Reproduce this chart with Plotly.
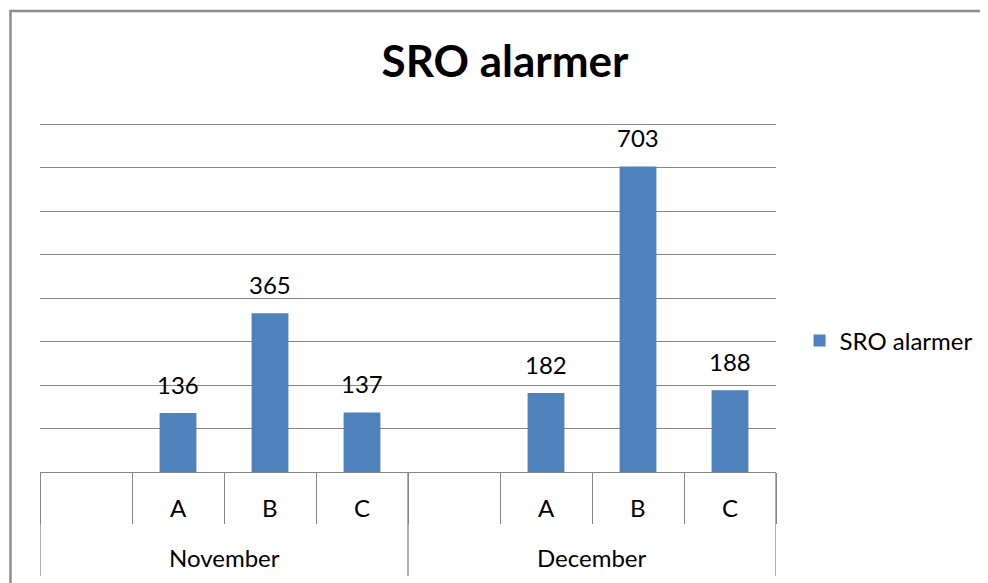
import plotly.graph_objects as go

# ---- data ----
months = ["November", "December"]
sub_labels = ["", "A", "B", "C"]
values_nov = [None, 136, 365, 137]
values_dec = [None, 182, 703, 188]
series_name = "SRO alarmer"
title_text = "SRO alarmer"
y_max = 800
y_step = 100

values = values_nov + values_dec
inner = sub_labels * len(months)
xpos = list(range(len(values)))
n_sub = len(sub_labels)

BAR = "#4F81BD"
GRID = "#868686"
FONT = "Lato"
TXT = "#000000"

# page has an 8px body margin; figure is sized/offset to compensate
OFF = 8
W, H = 988 - OFF, 583 - OFF
ML, MR, MT, MB = 40 - OFF, 212, 123 - OFF, 583 - 472
plot_w = W - ML - MR
plot_h = H - MT - MB

fig = go.Figure()
fig.add_trace(go.Bar(
    x=xpos, y=values, name=series_name, marker=dict(color=BAR, line=dict(width=0)),
    width=0.4, showlegend=True,
))

# data labels
for xi, v in zip(xpos, values):
    if v is None:
        continue
    fig.add_annotation(x=xi, y=v, xref="x", yref="y", text=str(v), showarrow=False,
                       yanchor="bottom", yshift=12, font=dict(family=FONT, size=24, color=TXT))

# inner category labels
for xi, lab in zip(xpos, inner):
    if lab:
        fig.add_annotation(x=xi, y=0, xref="x", yref="paper", text=lab, showarrow=False,
                           yanchor="middle", yshift=-35, font=dict(family=FONT, size=24, color=TXT))

# outer group labels + dividers
for gi, m in enumerate(months):
    center = gi * n_sub + (n_sub - 1) / 2
    fig.add_annotation(x=center, y=0, xref="x", yref="paper", text=m, showarrow=False,
                       yanchor="middle", yshift=-85, font=dict(family=FONT, size=24, color=TXT))
for gi in range(len(months) + 1):
    b = gi * n_sub - 0.5
    fig.add_shape(type="line", xref="x", yref="paper", x0=b, x1=b, y0=0, y1=-104 / plot_h,
                  line=dict(color=GRID, width=1.3))

# outer chart border (partial, cropped screenshot)
xl = (10.5 - 40) / plot_w
yt = (472 - 11) / plot_h
fig.add_shape(type="path", xref="paper", yref="paper",
              path=f"M {xl},{-0.5} L {xl},{yt} L {1.4},{yt}",
              line=dict(color="#8c8c8c", width=2.5))

fig.update_layout(
    width=W, height=H,
    margin=dict(l=ML, r=MR, t=MT, b=MB, autoexpand=False),
    paper_bgcolor="white", plot_bgcolor="white",
    title=dict(text=f"<b>{title_text}</b>", x=(505 - OFF) / W, xref="container", xanchor="center",
               y=1 - (62 - OFF) / H, yref="container", yanchor="middle",
               font=dict(family=FONT, size=44, color=TXT)),
    xaxis=dict(range=[-0.5, len(values) - 0.5], showgrid=False, zeroline=False,
               showline=True, linecolor=GRID, linewidth=1.3,
               tickmode="array", tickvals=[i - 0.5 for i in range(len(values) + 1)],
               ticks="outside", ticklen=51, tickcolor=GRID, tickwidth=1.3,
               showticklabels=False),
    yaxis=dict(range=[0, y_max * 1.0035], dtick=y_step, showgrid=True, gridcolor=GRID, gridwidth=1.3,
               zeroline=False, showline=False, showticklabels=False, ticks=""),
    legend=dict(x=1.032, y=0.376, xanchor="left", yanchor="middle",
                font=dict(family=FONT, size=24, color=TXT), bgcolor="rgba(0,0,0,0)"),
)

fig.write_html("out.html")
